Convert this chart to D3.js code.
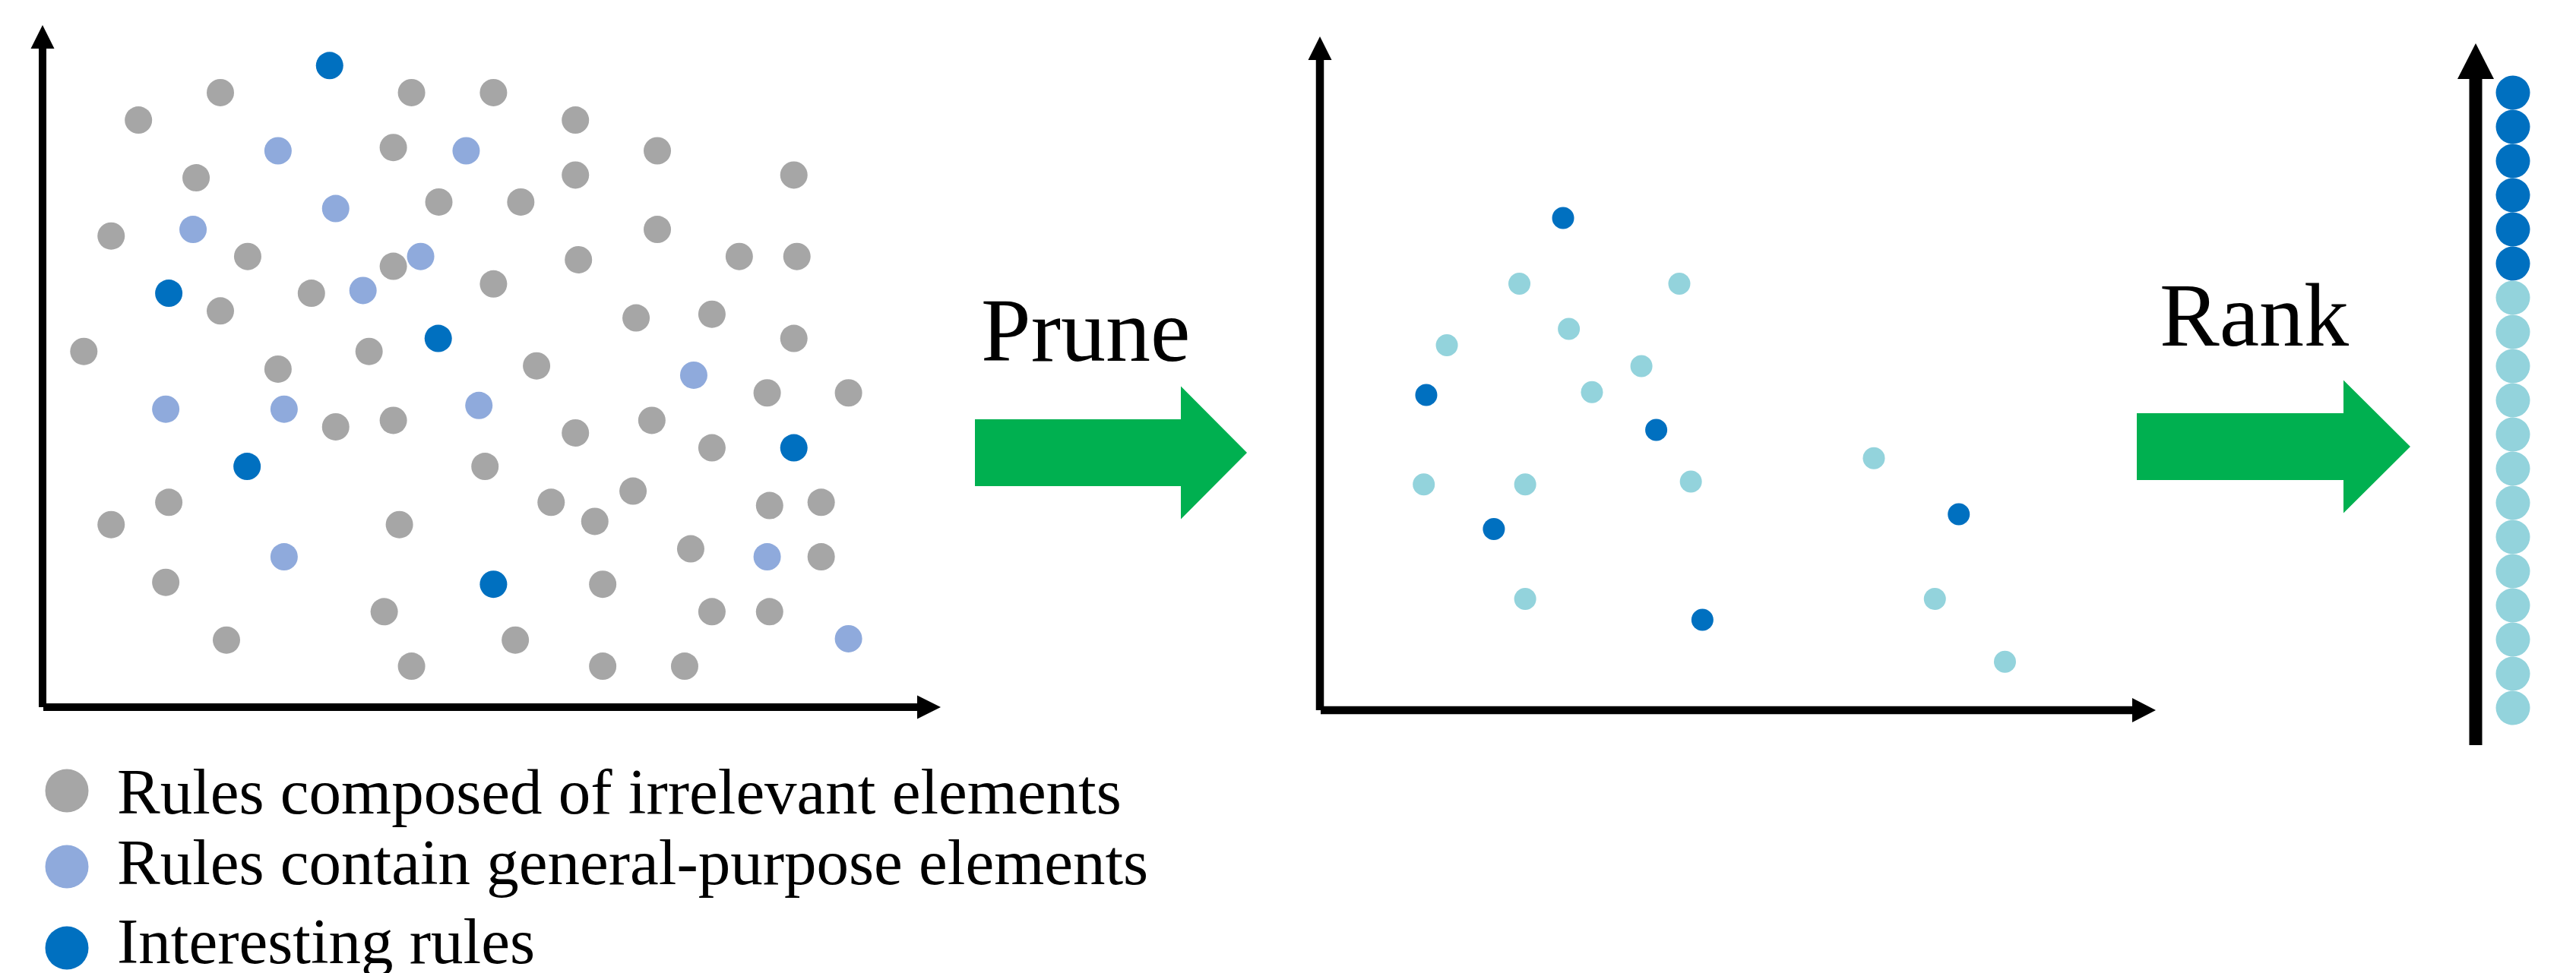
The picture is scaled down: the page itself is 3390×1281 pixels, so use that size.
<!DOCTYPE html>
<html>
<head>
<meta charset="utf-8">
<script src="https://cdn.jsdelivr.net/npm/d3@7"></script>
<style>
  html, body { margin: 0; padding: 0; background: #ffffff; }
  svg { display: block; }
</style>
</head>
<body>
<svg id="chart" width="3390" height="1281"></svg>
<script>
// ---------------- DATA ----------------
const categories = [
  "Rules composed of irrelevant elements",
  "Rules contain general-purpose elements",
  "Interesting rules"
];
const stepLabels = ["Prune", "Rank"];

// Left panel (all mined rules), values in panel units (x: 0..1480, y: 0..1465)
const irrelevantRules = [
  [293,1320],[608,1320],[743,1320],[158,1261],[878,1261],[578,1202],[1013,1195],
  [253,1137],[878,1143],[1238,1143],[653,1085],[788,1085],[113,1012],[1013,1026],
  [338,968],[578,947],[883,961],[1148,968],[1243,968],[443,889],[743,909],[293,851],
  [978,836],[1103,844],[68,764],[538,764],[1238,792],[388,726],[814,733],[1194,675],
  [1328,675],[483,602],[578,616],[878,589],[1004,616],[1103,557],[729,517],[208,440],
  [113,392],[588,392],[838,440],[910,399],[973,464],[1198,433],[1283,440],[1068,340],
  [1283,323],[203,268],[923,264],[563,205],[1103,205],[1198,205],[303,144],[779,144],
  [608,88],[923,88],[1058,88]
];
const generalRules = [
  [388,1195],[698,1195],[483,1071],[248,1026],[623,968],[528,895],[1073,713],
  [203,640],[398,640],[719,648],[398,323],[1194,323],[1328,147]
];
const interestingRules = [
  [473,1378],[208,889],[652,792],[1238,557],[337,517],[743,264]
];

// Middle panel (after pruning), values in panel units (x: 0..1014, y: 0..1447)
const prunedInteresting = [
  [295,1057],[129,677],[408,602],[775,421],[211,389],[464,194]
];
const prunedOther = [
  [242,916],[436,916],[302,819],[154,784],[390,739],[330,683],[672,541],
  [126,485],[249,485],[450,491],[249,239],[746,239],[831,104]
];

// ---------------- STYLE ----------------
const colGrey = "#A6A6A6";
const colGeneral = "#8FAADC";
const colInteresting = "#0070C0";
const colPruned = "#93D3DC";
const colGreen = "#00B050";
const fontFamily = "'Liberation Serif', 'Times New Roman', serif";

const svg = d3.select("#chart");

// arrow helper: line from (x1,y1) to tip (x2,y2), head of given width/length
function arrow(g, x1, y1, x2, y2, sw, headW, headL) {
  const dx = x2 - x1, dy = y2 - y1, len = Math.hypot(dx, dy);
  const ux = dx / len, uy = dy / len;
  const bx = x2 - ux * headL, by = y2 - uy * headL;
  g.append("line")
    .attr("x1", x1).attr("y1", y1).attr("x2", bx + ux * 1).attr("y2", by + uy * 1)
    .attr("stroke", "#000").attr("stroke-width", sw).attr("stroke-linecap", "butt");
  const px = -uy, py = ux;
  g.append("path")
    .attr("d", `M${x2},${y2}L${bx + px * headW / 2},${by + py * headW / 2}L${bx - px * headW / 2},${by - py * headW / 2}Z`)
    .attr("fill", "#000");
}

// ---------------- LEFT PANEL ----------------
const xL = d3.scaleLinear().domain([0, 1480]).range([56, 1238]);
const yL = d3.scaleLinear().domain([0, 1465]).range([931, 33]);
const gL = svg.append("g");
arrow(gL, xL(0), yL(0), xL(0), yL.range()[1], 10, 31, 31);
arrow(gL, xL(0) + 1, yL(0), xL.range()[1], yL(0), 10, 31, 31);

const leftSeries = [
  { data: irrelevantRules, color: colGrey },
  { data: generalRules, color: colGeneral },
  { data: interestingRules, color: colInteresting }
];
leftSeries.forEach(s => {
  gL.append("g").selectAll("circle").data(s.data).join("circle")
    .attr("cx", d => xL(d[0])).attr("cy", d => yL(d[1]))
    .attr("r", 18).attr("fill", s.color);
});

// ---------------- MIDDLE PANEL ----------------
const xM = d3.scaleLinear().domain([0, 1014]).range([1737, 2837]);
const yM = d3.scaleLinear().domain([0, 1447]).range([935, 48]);
const gM = svg.append("g");
arrow(gM, xM(0), yM(0), xM(0), yM.range()[1], 10.5, 31, 31);
arrow(gM, xM(0) + 1, yM(0), xM.range()[1], yM(0), 10.5, 32, 31);

[{ data: prunedOther, color: colPruned }, { data: prunedInteresting, color: colInteresting }]
  .forEach(s => {
    gM.append("g").selectAll("circle").data(s.data).join("circle")
      .attr("cx", d => xM(d[0])).attr("cy", d => yM(d[1]))
      .attr("r", 14.5).attr("fill", s.color);
  });

// ---------------- RIGHT PANEL (ranked) ----------------
const ranked = [
  ...prunedInteresting.map(() => colInteresting),
  ...prunedOther.map(() => colPruned)
];
const yR = d3.scalePoint().domain(d3.range(ranked.length)).range([122, 932]);
const gR = svg.append("g");
arrow(gR, 3258, 981, 3258, 57, 17, 48, 47);
gR.selectAll("circle").data(ranked).join("circle")
  .attr("cx", 3307).attr("cy", (d, i) => yR(i))
  .attr("r", 22.5).attr("fill", d => d);

// ---------------- STEP ARROWS ----------------
function bigArrow(x0, cy, bodyL, bodyH, headL, headH) {
  const p = d3.path();
  p.moveTo(x0, cy - bodyH / 2);
  p.lineTo(x0 + bodyL, cy - bodyH / 2);
  p.lineTo(x0 + bodyL, cy - headH / 2);
  p.lineTo(x0 + bodyL + headL, cy);
  p.lineTo(x0 + bodyL, cy + headH / 2);
  p.lineTo(x0 + bodyL, cy + bodyH / 2);
  p.lineTo(x0, cy + bodyH / 2);
  p.closePath();
  svg.append("path").attr("d", p.toString()).attr("fill", colGreen);
}
bigArrow(1283, 596, 271, 88, 87, 175);
bigArrow(2812, 588, 272, 88, 88, 175);

svg.append("text").attr("x", 1291).attr("y", 475)
  .attr("font-family", fontFamily).attr("font-size", 118).attr("fill", "#000")
  .text(stepLabels[0]);
svg.append("text").attr("x", 2842).attr("y", 455)
  .attr("font-family", fontFamily).attr("font-size", 118).attr("fill", "#000")
  .text(stepLabels[1]);

// ---------------- LEGEND ----------------
const legendColors = [colGrey, colGeneral, colInteresting];
const legendDotY = [1041, 1141, 1248];
const legendTextY = [1071, 1164, 1268];
const gLeg = svg.append("g");
categories.forEach((c, i) => {
  gLeg.append("circle").attr("cx", 88).attr("cy", legendDotY[i]).attr("r", 28.5)
    .attr("fill", legendColors[i]);
  gLeg.append("text").attr("x", 154).attr("y", legendTextY[i])
    .attr("font-family", fontFamily).attr("font-size", 85).attr("fill", "#000")
    .text(c);
});
</script>
</body>
</html>
